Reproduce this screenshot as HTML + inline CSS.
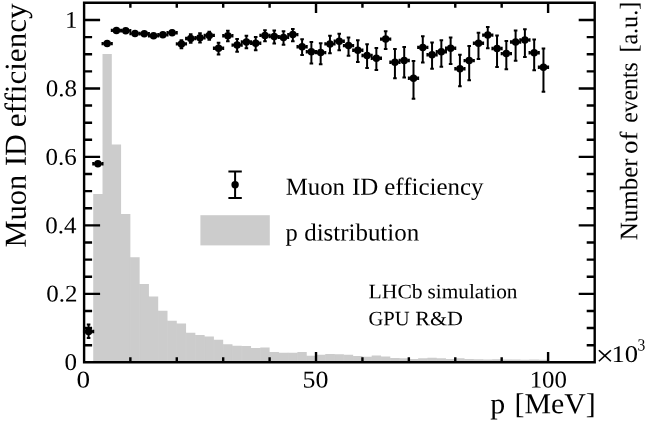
<!DOCTYPE html>
<html><head><meta charset="utf-8"><title>Muon ID efficiency</title>
<style>
html,body{margin:0;padding:0;background:#fff;}
svg{display:block;font-family:"Liberation Serif",serif;fill:#000;}
</style></head><body>
<svg width="646" height="421" viewBox="0 0 646 421">
<rect width="646" height="421" fill="#fff"/>
<path d="M93.23,362.3 V193.9 H102.52 V54.1 H111.80 V144.6 H121.08 V214.0 H130.37 V257.3 H139.65 V284.1 H148.93 V296.5 H158.21 V310.8 H167.50 V320.7 H176.78 V323.4 H186.06 V332.7 H195.35 V335.1 H204.63 V336.4 H213.91 V339.8 H223.19 V344.2 H232.48 V345.7 H241.76 V346.0 H251.04 V347.9 H260.33 V347.4 H269.61 V352.1 H278.89 V352.7 H288.18 V352.7 H297.46 V352.0 H306.74 V355.8 H316.02 V354.8 H325.31 V354.0 H334.59 V354.2 H343.87 V354.8 H353.16 V356.0 H362.44 V356.7 H371.72 V355.4 H381.01 V356.4 H390.29 V357.9 H399.57 V358.3 H408.85 V359.1 H418.14 V358.3 H427.42 V357.7 H436.70 V358.3 H445.99 V359.1 H455.27 V358.3 H464.55 V359.0 H473.84 V359.3 H483.12 V359.5 H492.40 V359.3 H501.68 V359.6 H510.97 V359.4 H520.25 V359.7 H529.53 V359.6 H538.82 V359.8 H548.10 V362.3 Z" fill="#cccccc"/>
<path d="M130.37,257.3V362.3M139.65,284.1V362.3M148.93,296.5V362.3M158.21,310.8V362.3M167.50,320.7V362.3M176.78,323.4V362.3M186.06,332.7V362.3M195.35,335.1V362.3M204.63,336.4V362.3M213.91,339.8V362.3M223.19,344.2V362.3M232.48,345.7V362.3M241.76,346.0V362.3M251.04,347.9V362.3M260.33,347.9V362.3M269.61,352.1V362.3M278.89,352.7V362.3M288.18,352.7V362.3M297.46,352.7V362.3M306.74,355.8V362.3M316.02,355.8V362.3M325.31,354.8V362.3M334.59,354.2V362.3M343.87,354.8V362.3M353.16,356.0V362.3M362.44,356.7V362.3M371.72,356.7V362.3M381.01,356.4V362.3M390.29,357.9V362.3M399.57,358.3V362.3M408.85,359.1V362.3M418.14,359.1V362.3M427.42,358.3V362.3M436.70,358.3V362.3M445.99,359.1V362.3M455.27,359.1V362.3M464.55,359.0V362.3M473.84,359.3V362.3M483.12,359.5V362.3M492.40,359.5V362.3M501.68,359.6V362.3M510.97,359.6V362.3M520.25,359.7V362.3M529.53,359.7V362.3M538.82,359.8V362.3" stroke="#d2d2d2" stroke-width="0.4" fill="none"/>
<rect x="200.4" y="215.2" width="69.4" height="30.2" fill="#cccccc"/>
<g stroke="#000" stroke-width="2" fill="none"><path d="M235.1,171.6V198 M228.4,171.6H241.8 M228.4,198H241.8"/></g>
<circle cx="235.1" cy="184.8" r="3.7"/>
<g stroke="#000" stroke-width="2.4" fill="none" stroke-linecap="butt">
<path d="M84.1,1.5V363.5 M82.9,362.3H595.9 M594.7,363.5V1.5 M82.9,2.7H595.9"/>
<path d="M84.1,345.19h8 M594.7,345.19h-8 M84.1,328.07h8 M594.7,328.07h-8 M84.1,310.95h8 M594.7,310.95h-8 M84.1,293.84h16 M594.7,293.84h-16 M84.1,276.73h8 M594.7,276.73h-8 M84.1,259.61h8 M594.7,259.61h-8 M84.1,242.50h8 M594.7,242.50h-8 M84.1,225.38h16 M594.7,225.38h-16 M84.1,208.27h8 M594.7,208.27h-8 M84.1,191.15h8 M594.7,191.15h-8 M84.1,174.03h8 M594.7,174.03h-8 M84.1,156.92h16 M594.7,156.92h-16 M84.1,139.81h8 M594.7,139.81h-8 M84.1,122.69h8 M594.7,122.69h-8 M84.1,105.57h8 M594.7,105.57h-8 M84.1,88.46h16 M594.7,88.46h-16 M84.1,71.34h8 M594.7,71.34h-8 M84.1,54.23h8 M594.7,54.23h-8 M84.1,37.11h8 M594.7,37.11h-8 M84.1,20.00h16 M594.7,20.00h-16 M130.37,362.3v-5 M130.37,2.7v5 M176.78,362.3v-5 M176.78,2.7v5 M223.19,362.3v-5 M223.19,2.7v5 M269.61,362.3v-5 M269.61,2.7v5 M316.02,362.3v-10.3 M316.02,2.7v10.3 M362.44,362.3v-5 M362.44,2.7v5 M408.85,362.3v-5 M408.85,2.7v5 M455.27,362.3v-5 M455.27,2.7v5 M501.68,362.3v-5 M501.68,2.7v5 M548.10,362.3v-10.3 M548.10,2.7v10.3 "/>
</g>
<path d="M83.95,331.5H93.23 M83.95,329.8v3.4 M93.23,329.8v3.4 M88.59,324.6V337.9 M86.79,324.6h3.6 M86.79,337.9h3.6 M93.23,163.8H102.52 M93.23,162.1v3.4 M102.52,162.1v3.4 M97.87,162.3V165.3 M96.07,162.3h3.6 M96.07,165.3h3.6 M102.52,43.6H111.80 M102.52,41.9v3.4 M111.80,41.9v3.4 M107.16,42.6V44.6 M105.36,42.6h3.6 M105.36,44.6h3.6 M111.80,30.4H121.08 M111.80,28.7v3.4 M121.08,28.7v3.4 M116.44,29.4V31.4 M114.64,29.4h3.6 M114.64,31.4h3.6 M121.08,30.7H130.37 M121.08,29.0v3.4 M130.37,29.0v3.4 M125.72,29.7V31.7 M123.92,29.7h3.6 M123.92,31.7h3.6 M130.37,33.5H139.65 M130.37,31.8v3.4 M139.65,31.8v3.4 M135.01,32.3V34.7 M133.21,32.3h3.6 M133.21,34.7h3.6 M139.65,33.8H148.93 M139.65,32.1v3.4 M148.93,32.1v3.4 M144.29,32.3V35.3 M142.49,32.3h3.6 M142.49,35.3h3.6 M148.93,35.8H158.21 M148.93,34.1v3.4 M158.21,34.1v3.4 M153.57,34.3V37.3 M151.77,34.3h3.6 M151.77,37.3h3.6 M158.21,34.8H167.50 M158.21,33.1v3.4 M167.50,33.1v3.4 M162.86,33.3V36.3 M161.06,33.3h3.6 M161.06,36.3h3.6 M167.50,32.7H176.78 M167.50,31.0v3.4 M176.78,31.0v3.4 M172.14,30.8V34.6 M170.34,30.8h3.6 M170.34,34.6h3.6 M176.78,43.9H186.06 M176.78,42.2v3.4 M186.06,42.2v3.4 M181.42,40.2V48.3 M179.62,40.2h3.6 M179.62,48.3h3.6 M186.06,38.5H195.35 M186.06,36.8v3.4 M195.35,36.8v3.4 M190.70,34.3V42.8 M188.90,34.3h3.6 M188.90,42.8h3.6 M195.35,37.7H204.63 M195.35,36.0v3.4 M204.63,36.0v3.4 M199.99,33.2V42.5 M198.19,33.2h3.6 M198.19,42.5h3.6 M204.63,35.4H213.91 M204.63,33.7v3.4 M213.91,33.7v3.4 M209.27,31.8V39.7 M207.47,31.8h3.6 M207.47,39.7h3.6 M213.91,48.2H223.19 M213.91,46.5v3.4 M223.19,46.5v3.4 M218.55,42.8V54.4 M216.75,42.8h3.6 M216.75,54.4h3.6 M223.19,35.8H232.48 M223.19,34.1v3.4 M232.48,34.1v3.4 M227.84,30.7V41.3 M226.04,30.7h3.6 M226.04,41.3h3.6 M232.48,45.1H241.76 M232.48,43.4v3.4 M241.76,43.4v3.4 M237.12,38.9V51.8 M235.32,38.9h3.6 M235.32,51.8h3.6 M241.76,42.0H251.04 M241.76,40.3v3.4 M251.04,40.3v3.4 M246.40,35.8V48.2 M244.60,35.8h3.6 M244.60,48.2h3.6 M251.04,43.3H260.33 M251.04,41.6v3.4 M260.33,41.6v3.4 M255.69,36.9V50.2 M253.89,36.9h3.6 M253.89,50.2h3.6 M260.33,35.4H269.61 M260.33,33.7v3.4 M269.61,33.7v3.4 M264.97,30.2V41.3 M263.17,30.2h3.6 M263.17,41.3h3.6 M269.61,36.6H278.89 M269.61,34.9v3.4 M278.89,34.9v3.4 M274.25,30.4V43.6 M272.45,30.4h3.6 M272.45,43.6h3.6 M278.89,37.4H288.18 M278.89,35.7v3.4 M288.18,35.7v3.4 M283.53,31.2V44.7 M281.73,31.2h3.6 M281.73,44.7h3.6 M288.18,34.6H297.46 M288.18,32.9v3.4 M297.46,32.9v3.4 M292.82,28.9V41.3 M291.02,28.9h3.6 M291.02,41.3h3.6 M297.46,46.7H306.74 M297.46,45.0v3.4 M306.74,45.0v3.4 M302.10,39.2V54.9 M300.30,39.2h3.6 M300.30,54.9h3.6 M306.74,51.8H316.02 M306.74,50.1v3.4 M316.02,50.1v3.4 M311.38,42.0V63.4 M309.58,42.0h3.6 M309.58,63.4h3.6 M316.02,52.6H325.31 M316.02,50.9v3.4 M325.31,50.9v3.4 M320.67,43.3V64.2 M318.87,43.3h3.6 M318.87,64.2h3.6 M325.31,43.9H334.59 M325.31,42.2v3.4 M334.59,42.2v3.4 M329.95,35.8V53.2 M328.15,35.8h3.6 M328.15,53.2h3.6 M334.59,41.3H343.87 M334.59,39.6v3.4 M343.87,39.6v3.4 M339.23,33.8V50.2 M337.43,33.8h3.6 M337.43,50.2h3.6 M343.87,45.6H353.16 M343.87,43.9v3.4 M353.16,43.9v3.4 M348.52,37.4V55.7 M346.72,37.4h3.6 M346.72,55.7h3.6 M353.16,50.2H362.44 M353.16,48.5v3.4 M362.44,48.5v3.4 M357.80,40.3V62.0 M356.00,40.3h3.6 M356.00,62.0h3.6 M362.44,55.5H371.72 M362.44,53.8v3.4 M371.72,53.8v3.4 M367.08,44.3V67.9 M365.28,44.3h3.6 M365.28,67.9h3.6 M371.72,58.3H381.01 M371.72,56.6v3.4 M381.01,56.6v3.4 M376.36,47.9V69.9 M374.56,47.9h3.6 M374.56,69.9h3.6 M381.01,39.1H390.29 M381.01,37.4v3.4 M390.29,37.4v3.4 M385.65,31.2V49.0 M383.85,31.2h3.6 M383.85,49.0h3.6 M390.29,62.2H399.57 M390.29,60.5v3.4 M399.57,60.5v3.4 M394.93,48.9V78.2 M393.13,48.9h3.6 M393.13,78.2h3.6 M399.57,60.5H408.85 M399.57,58.8v3.4 M408.85,58.8v3.4 M404.21,46.9V77.5 M402.41,46.9h3.6 M402.41,77.5h3.6 M408.85,78.2H418.14 M408.85,76.5v3.4 M418.14,76.5v3.4 M413.50,61.1V98.8 M411.70,61.1h3.6 M411.70,98.8h3.6 M418.14,47.4H427.42 M418.14,45.7v3.4 M427.42,45.7v3.4 M422.78,36.3V62.5 M420.98,36.3h3.6 M420.98,62.5h3.6 M427.42,54.7H436.70 M427.42,53.0v3.4 M436.70,53.0v3.4 M432.06,42.5V68.8 M430.26,42.5h3.6 M430.26,68.8h3.6 M436.70,51.8H445.99 M436.70,50.1v3.4 M445.99,50.1v3.4 M441.35,40.2V66.8 M439.55,40.2h3.6 M439.55,66.8h3.6 M445.99,48.3H455.27 M445.99,46.6v3.4 M455.27,46.6v3.4 M450.63,37.4V64.1 M448.83,37.4h3.6 M448.83,64.1h3.6 M455.27,68.8H464.55 M455.27,67.1v3.4 M464.55,67.1v3.4 M459.91,54.7V86.3 M458.11,54.7h3.6 M458.11,86.3h3.6 M464.55,60.6H473.84 M464.55,58.9v3.4 M473.84,58.9v3.4 M469.19,46.1V80.2 M467.39,46.1h3.6 M467.39,80.2h3.6 M473.84,43.3H483.12 M473.84,41.6v3.4 M483.12,41.6v3.4 M478.48,32.7V59.0 M476.68,32.7h3.6 M476.68,59.0h3.6 M483.12,35.1H492.40 M483.12,33.4v3.4 M492.40,33.4v3.4 M487.76,26.9V48.2 M485.96,26.9h3.6 M485.96,48.2h3.6 M492.40,48.5H501.68 M492.40,46.8v3.4 M501.68,46.8v3.4 M497.04,35.4V67.1 M495.24,35.4h3.6 M495.24,67.1h3.6 M501.68,53.6H510.97 M501.68,51.9v3.4 M510.97,51.9v3.4 M506.33,41.1V69.3 M504.53,41.1h3.6 M504.53,69.3h3.6 M510.97,42.0H520.25 M510.97,40.3v3.4 M520.25,40.3v3.4 M515.61,30.4V60.7 M513.81,30.4h3.6 M513.81,60.7h3.6 M520.25,40.0H529.53 M520.25,38.3v3.4 M529.53,38.3v3.4 M524.89,29.3V56.9 M523.09,29.3h3.6 M523.09,56.9h3.6 M529.53,52.7H538.82 M529.53,51.0v3.4 M538.82,51.0v3.4 M534.18,39.5V70.3 M532.38,39.5h3.6 M532.38,70.3h3.6 M538.82,67.3H548.10 M538.82,65.6v3.4 M548.10,65.6v3.4 M543.46,48.6V91.8 M541.66,48.6h3.6 M541.66,91.8h3.6 " stroke="#000" stroke-width="2" fill="none"/>
<circle cx="88.59" cy="331.5" r="3.75"/>
<circle cx="97.87" cy="163.8" r="3.75"/>
<circle cx="107.16" cy="43.6" r="3.75"/>
<circle cx="116.44" cy="30.4" r="3.75"/>
<circle cx="125.72" cy="30.7" r="3.75"/>
<circle cx="135.01" cy="33.5" r="3.75"/>
<circle cx="144.29" cy="33.8" r="3.75"/>
<circle cx="153.57" cy="35.8" r="3.75"/>
<circle cx="162.86" cy="34.8" r="3.75"/>
<circle cx="172.14" cy="32.7" r="3.75"/>
<circle cx="181.42" cy="43.9" r="3.75"/>
<circle cx="190.70" cy="38.5" r="3.75"/>
<circle cx="199.99" cy="37.7" r="3.75"/>
<circle cx="209.27" cy="35.4" r="3.75"/>
<circle cx="218.55" cy="48.2" r="3.75"/>
<circle cx="227.84" cy="35.8" r="3.75"/>
<circle cx="237.12" cy="45.1" r="3.75"/>
<circle cx="246.40" cy="42.0" r="3.75"/>
<circle cx="255.69" cy="43.3" r="3.75"/>
<circle cx="264.97" cy="35.4" r="3.75"/>
<circle cx="274.25" cy="36.6" r="3.75"/>
<circle cx="283.53" cy="37.4" r="3.75"/>
<circle cx="292.82" cy="34.6" r="3.75"/>
<circle cx="302.10" cy="46.7" r="3.75"/>
<circle cx="311.38" cy="51.8" r="3.75"/>
<circle cx="320.67" cy="52.6" r="3.75"/>
<circle cx="329.95" cy="43.9" r="3.75"/>
<circle cx="339.23" cy="41.3" r="3.75"/>
<circle cx="348.52" cy="45.6" r="3.75"/>
<circle cx="357.80" cy="50.2" r="3.75"/>
<circle cx="367.08" cy="55.5" r="3.75"/>
<circle cx="376.36" cy="58.3" r="3.75"/>
<circle cx="385.65" cy="39.1" r="3.75"/>
<circle cx="394.93" cy="62.2" r="3.75"/>
<circle cx="404.21" cy="60.5" r="3.75"/>
<circle cx="413.50" cy="78.2" r="3.75"/>
<circle cx="422.78" cy="47.4" r="3.75"/>
<circle cx="432.06" cy="54.7" r="3.75"/>
<circle cx="441.35" cy="51.8" r="3.75"/>
<circle cx="450.63" cy="48.3" r="3.75"/>
<circle cx="459.91" cy="68.8" r="3.75"/>
<circle cx="469.19" cy="60.6" r="3.75"/>
<circle cx="478.48" cy="43.3" r="3.75"/>
<circle cx="487.76" cy="35.1" r="3.75"/>
<circle cx="497.04" cy="48.5" r="3.75"/>
<circle cx="506.33" cy="53.6" r="3.75"/>
<circle cx="515.61" cy="42.0" r="3.75"/>
<circle cx="524.89" cy="40.0" r="3.75"/>
<circle cx="534.18" cy="52.7" r="3.75"/>
<circle cx="543.46" cy="67.3" r="3.75"/>
<text transform="translate(65.10,27.8) rotate(0.03) scale(1.0417,1)" font-size="24.0px">1</text>
<text transform="translate(45.85,96.3) rotate(0.03) scale(1.0417,1)" font-size="24.0px">0.8</text>
<text transform="translate(45.60,164.7) rotate(0.03) scale(1.0417,1)" font-size="24.0px">0.6</text>
<text transform="translate(45.22,233.2) rotate(0.03) scale(1.0417,1)" font-size="24.0px">0.4</text>
<text transform="translate(46.22,301.6) rotate(0.03) scale(1.0417,1)" font-size="24.0px">0.2</text>
<text transform="translate(64.60,370.1) rotate(0.03) scale(1.0417,1)" font-size="24.0px">0</text>
<text transform="translate(76.61,387.5) rotate(0.03) scale(1.1310,1)" font-size="24.0px">0</text>
<text transform="translate(302.45,387.5) rotate(0.03) scale(1.0787,1)" font-size="24.0px">50</text>
<text transform="translate(529.66,387.5) rotate(0.03) scale(1.0371,1)" font-size="24.0px">100</text>
<text transform="translate(595.81,365.4) rotate(0.03) scale(1.0928,1)" font-size="29.6px">×</text>
<text transform="translate(611.51,361.9) rotate(0.03) scale(1.1063,1)" font-size="24.0px">10</text>
<text transform="translate(637.42,350.5) rotate(0.03) scale(0.9075,1)" font-size="17.2px">3</text>
<text transform="translate(490.35,413.3) rotate(0.03) scale(1.0306,1)" font-size="29.0px">p</text>
<text transform="translate(514.56,413.3) rotate(0.03) scale(1.0298,1)" font-size="29.0px">[MeV]</text>
<text transform="translate(25.7,247.51) rotate(-89.97) scale(0.9983,1)" font-size="30.5px">Muon</text>
<text transform="translate(25.7,165.95) rotate(-89.97) scale(0.9836,1)" font-size="30.5px">ID</text>
<text transform="translate(25.7,127.25) rotate(-89.97) scale(1.0215,1)" font-size="30.5px">efficiency</text>
<text transform="translate(637.2,240.35) rotate(-89.97) scale(0.9921,1)" font-size="25.2px">Number</text>
<text transform="translate(637.2,153.97) rotate(-89.97) scale(1.0632,1)" font-size="25.2px">of</text>
<text transform="translate(637.2,122.85) rotate(-89.97) scale(0.9409,1)" font-size="25.2px">events</text>
<text transform="translate(637.2,52.61) rotate(-89.97) scale(0.9556,1)" font-size="25.2px">[a.u.]</text>
<text transform="translate(285.76,194.8) rotate(0.03) scale(1.0130,1)" font-size="24.5px">Muon</text>
<text transform="translate(352.02,194.8) rotate(0.03) scale(1.0204,1)" font-size="24.5px">ID</text>
<text transform="translate(384.30,194.8) rotate(0.03) scale(1.0186,1)" font-size="24.5px">efficiency</text>
<text transform="translate(285.43,240.4) rotate(0.03) scale(0.9998,1)" font-size="24.5px">p</text>
<text transform="translate(304.23,240.4) rotate(0.03) scale(1.0177,1)" font-size="24.5px">distribution</text>
<text transform="translate(368.55,298.2) rotate(0.03) scale(1.0559,1)" font-size="20.5px">LHCb</text>
<text transform="translate(427.55,298.2) rotate(0.03) scale(1.0389,1)" font-size="20.5px">simulation</text>
<text transform="translate(368.38,325.2) rotate(0.03) scale(1.0058,1)" font-size="20.5px">GPU</text>
<text transform="translate(415.34,325.2) rotate(0.03) scale(1.0734,1)" font-size="20.5px">R&amp;D</text>
</svg></body></html>
